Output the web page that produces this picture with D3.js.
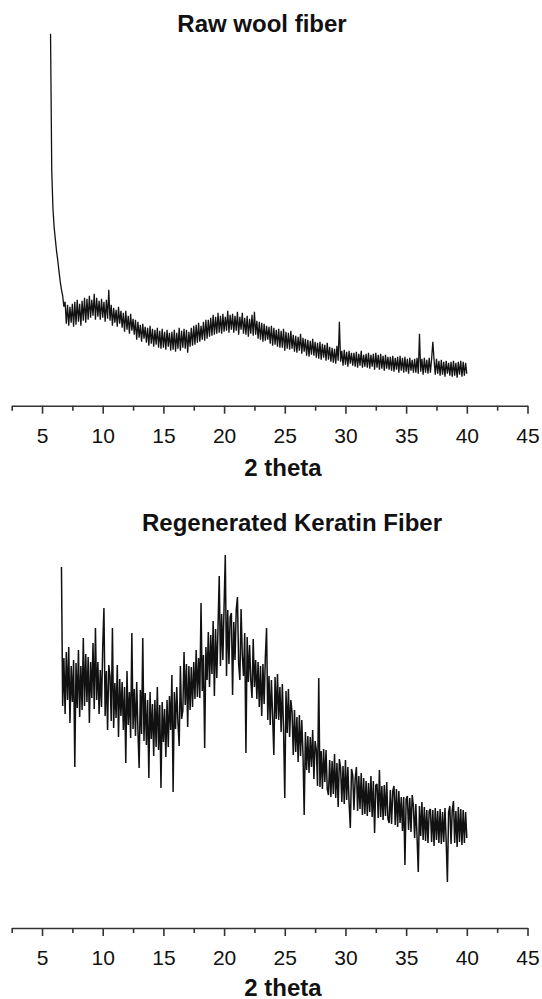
<!DOCTYPE html>
<html>
<head>
<meta charset="utf-8">
<script src="https://cdn.jsdelivr.net/npm/d3@7"></script>
<style>
  html, body { margin: 0; padding: 0; background: #fff; }
  svg { display: block; }
  text { font-family: "Liberation Sans", Arial, sans-serif; fill: #111; }
</style>
</head>
<body>
<svg id="chart" width="542" height="999"></svg>
<script>
// ---- data (intensity in arbitrary units) ----
const panelTitles = ["Raw wool fiber", "Regenerated Keratin Fiber"];
const xAxisLabel = "2 theta";
const majorTicks = [5, 10, 15, 20, 25, 30, 35, 40, 45];
const minorTicks = [2.5, 7.5, 12.5, 17.5, 22.5, 27.5, 32.5, 37.5, 42.5];
const xDomain = [2.5, 45];

// Raw wool fiber: scan from 5.7° to 40.0°, 0.1° step
const rawStart = 5.7, rawStep = 0.1;
const rawIntensity = [
  372, 235, 197, 178, 166, 154, 145, 134, 124, 116,
  110, 99, 104, 82, 101, 80, 99, 83, 102, 79,
  104, 81, 106, 84, 102, 80, 105, 85, 108, 83,
  107, 86, 110, 88, 106, 90, 112, 86, 108, 89,
  105, 86, 107, 88, 104, 84, 106, 87, 116, 85,
  101, 80, 98, 83, 96, 79, 99, 82, 95, 78,
  93, 74, 95, 76, 90, 72, 92, 75, 87, 71,
  86, 66, 84, 68, 81, 64, 82, 67, 79, 63,
  78, 60, 80, 62, 77, 59, 76, 61, 78, 58,
  75, 57, 77, 58, 74, 56, 76, 59, 73, 55,
  74, 56, 76, 54, 73, 57, 78, 55, 75, 58,
  77, 57, 76, 53, 74, 59, 78, 60, 80, 61,
  81, 63, 83, 64, 80, 66, 84, 65, 86, 67,
  86, 69, 88, 70, 91, 71, 89, 72, 93, 73,
  90, 72, 92, 74, 89, 75, 95, 73, 91, 76,
  92, 73, 90, 75, 94, 71, 89, 76, 93, 72,
  88, 71, 90, 69, 87, 72, 91, 70, 94, 71,
  85, 67, 84, 66, 83, 64, 82, 65, 80, 66,
  79, 62, 80, 60, 78, 61, 76, 59, 77, 58,
  75, 58, 77, 55, 74, 57, 73, 56, 75, 57,
  71, 54, 70, 53, 69, 55, 72, 52, 68, 54,
  67, 50, 66, 49, 65, 51, 67, 50, 64, 48,
  63, 47, 64, 46, 62, 48, 61, 45, 63, 46,
  59, 44, 58, 43, 57, 42, 60, 45, 84, 44,
  55, 40, 56, 41, 54, 39, 55, 42, 53, 40,
  53, 39, 54, 38, 52, 40, 55, 38, 51, 39,
  52, 38, 53, 37, 51, 39, 52, 36, 53, 38,
  51, 36, 52, 37, 50, 35, 51, 37, 49, 36,
  49, 35, 50, 34, 48, 36, 49, 33, 50, 35,
  48, 33, 49, 34, 47, 32, 48, 35, 46, 33,
  47, 33, 48, 32, 72, 34, 47, 31, 48, 33,
  46, 32, 48, 33, 47, 64, 46, 31, 47, 32,
  45, 30, 46, 31, 44, 29, 45, 32, 43, 30,
  44, 29, 45, 30, 43, 28, 44, 31, 45, 29,
  44, 30, 43, 32
];

// Regenerated keratin fiber: scan from 6.6° to 40.0°, 0.1° step
const regenStart = 6.6, regenStep = 0.1;
const regenIntensity = [
  361, 222, 270, 214, 276, 228, 281, 205, 262, 226,
  268, 161, 265, 220, 278, 211, 262, 218, 290, 222,
  274, 226, 271, 205, 266, 230, 285, 219, 300, 228,
  266, 214, 258, 221, 281, 320, 212, 257, 198, 263,
  252, 207, 300, 200, 245, 210, 263, 191, 249, 212,
  246, 198, 241, 165, 257, 203, 236, 190, 295, 199,
  239, 192, 246, 198, 160, 238, 194, 290, 187, 235,
  183, 228, 150, 236, 189, 224, 172, 228, 181, 241,
  178, 223, 140, 226, 186, 219, 171, 228, 181, 232,
  198, 253, 136, 236, 199, 241, 205, 182, 262, 209,
  217, 276, 223, 264, 201, 262, 218, 261, 221, 266,
  229, 278, 231, 270, 230, 325, 237, 273, 180, 281,
  248, 296, 241, 293, 254, 307, 232, 299, 250, 301,
  352, 262, 314, 268, 322, 373, 252, 318, 264, 311,
  315, 233, 306, 268, 318, 331, 264, 248, 319, 273,
  252, 295, 175, 291, 246, 283, 248, 230, 289, 241,
  268, 229, 266, 221, 262, 212, 264, 224, 271, 300,
  208, 252, 203, 248, 211, 173, 251, 209, 254, 208,
  241, 196, 244, 199, 130, 237, 195, 239, 191, 228,
  216, 173, 218, 176, 211, 166, 213, 172, 208, 175,
  113, 196, 158, 192, 155, 191, 161, 198, 149, 187,
  178, 142, 250, 141, 177, 139, 179, 146, 178, 139,
  133, 168, 131, 167, 134, 174, 130, 165, 121, 169,
  160, 126, 162, 124, 168, 128, 161, 125, 100, 159,
  153, 118, 149, 161, 117, 152, 119, 155, 113, 150,
  114, 147, 112, 145, 116, 152, 111, 147, 95, 143,
  144, 110, 158, 111, 142, 108, 143, 112, 146, 109,
  105, 138, 104, 137, 142, 103, 139, 101, 137, 105,
  131, 97, 131, 63, 129, 132, 98, 130, 96, 133,
  122, 90, 124, 91, 56, 122, 92, 126, 88, 121,
  87, 118, 85, 117, 119, 86, 118, 82, 120, 88,
  117, 85, 119, 84, 116, 86, 120, 87, 46, 116,
  122, 84, 118, 127, 85, 117, 81, 121, 86, 119,
  83, 118, 85, 116, 90
];

// ---- drawing ----
const svg = d3.select("#chart");
const x = d3.scaleLinear().domain(xDomain).range([11.7, 527.5]);

const panels = [
  { title: panelTitles[0], titleX: 262, titleY: 32, axisY: 405.7, labelY: 475.5,
    start: rawStart, step: rawStep, values: rawIntensity, lineWidth: 1.3 },
  { title: panelTitles[1], titleX: 292, titleY: 530.7, axisY: 928, labelY: 995.5,
    start: regenStart, step: regenStep, values: regenIntensity, lineWidth: 1.5 }
];

panels.forEach(p => {
  const y = d3.scaleLinear().domain([0, 400]).range([p.axisY, p.axisY - 400]);
  const pts = p.values.map((v, i) => ({ t: +(p.start + i * p.step).toFixed(2), v }));

  svg.append("text")
    .attr("x", p.titleX).attr("y", p.titleY)
    .attr("text-anchor", "middle")
    .style("font-size", "24px").style("font-weight", "bold")
    .text(p.title);

  svg.append("path")
    .datum(pts)
    .attr("fill", "none")
    .attr("stroke", "#111")
    .attr("stroke-width", p.lineWidth)
    .attr("stroke-linejoin", "bevel")
    .attr("d", d3.line().x(d => x(d.t)).y(d => y(d.v)));

  // minor ticks
  const minor = svg.append("g")
    .attr("transform", `translate(0,${p.axisY})`)
    .call(d3.axisBottom(x).tickValues(minorTicks).tickSize(5).tickSizeOuter(0).tickFormat(""));
  minor.select(".domain").remove();
  minor.selectAll("line").attr("stroke", "#333").attr("stroke-width", 1.6);

  // major ticks + labels
  const major = svg.append("g")
    .attr("transform", `translate(0,${p.axisY})`)
    .call(d3.axisBottom(x).tickValues(majorTicks).tickSize(8).tickSizeOuter(0).tickPadding(14));
  major.select(".domain").attr("stroke", "#333").attr("stroke-width", 1.6);
  major.selectAll("line").attr("stroke", "#333").attr("stroke-width", 1.6);
  major.selectAll("text")
    .style("font-size", "21px")
    .style("font-family", "'Liberation Sans', Arial, sans-serif")
    .attr("fill", "#111");

  svg.append("text")
    .attr("x", 283).attr("y", p.labelY)
    .attr("text-anchor", "middle")
    .style("font-size", "24px").style("font-weight", "bold")
    .text(xAxisLabel);
});
</script>
</body>
</html>
